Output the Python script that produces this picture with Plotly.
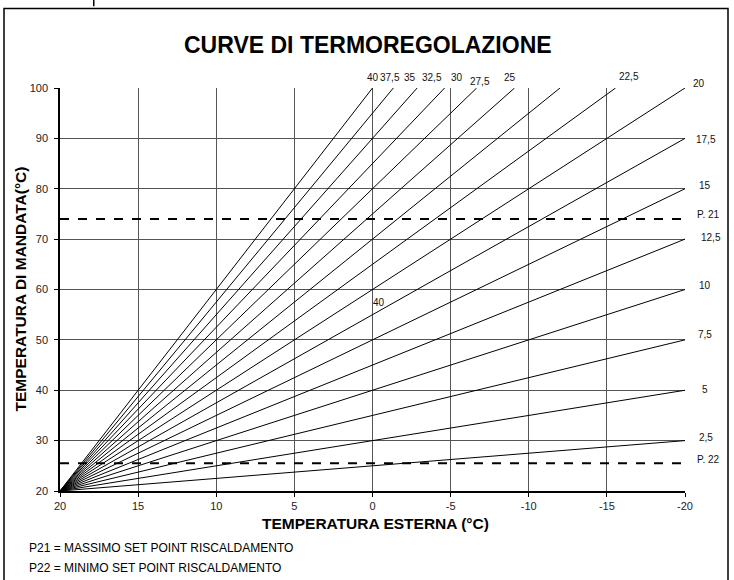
import plotly.graph_objects as go

# Heating curves: flow temperature vs outdoor temperature, all starting at (20, 20)
curve_labels = ["40", "37,5", "35", "32,5", "30", "27,5", "25", "22,5",
                "20", "17,5", "15", "12,5", "10", "7,5", "5", "2,5"]
curve_k = [40, 37.5, 35, 32.5, 30, 27.5, 25, 22.5,
           20, 17.5, 15, 12.5, 10, 7.5, 5, 2.5]

x_start, y_start = 20, 20          # common origin of the curves
x_min, y_max = -20, 100             # chart limits
p21_value = 74.0                    # max heating set point
p22_value = 25.5                    # min heating set point

x_ticks = [20, 15, 10, 5, 0, -5, -10, -15, -20]
y_ticks = [20, 30, 40, 50, 60, 70, 80, 90, 100]

FONT = "Liberation Sans, Arial, sans-serif"

fig = go.Figure()

label_pos = []
for lab, k in zip(curve_labels, curve_k):
    slope = k / 10.0
    # end at 100 °C or at the right edge, whichever comes first
    x_end = max(x_start - (y_max - y_start) / slope, x_min)
    y_end = y_start + slope * (x_start - x_end)
    fig.add_trace(go.Scatter(x=[x_start, x_end], y=[y_start, y_end], mode="lines",
                             line=dict(color="black", width=1), hoverinfo="skip",
                             showlegend=False))
    label_pos.append((lab, x_end, y_end))

# set-point limits
for val in (p21_value, p22_value):
    fig.add_trace(go.Scatter(x=[x_start, x_min], y=[val, val], mode="lines",
                             line=dict(color="black", width=2, dash="dash"),
                             hoverinfo="skip", showlegend=False))

annotations = []
# labels along the top edge (curves reaching 100 °C): (x nudge, y shift in px)
top_offsets = {"40": (0.0, 3), "37,5": (0.2, 3), "35": (0.45, 3), "32,5": (0.8, 3),
               "30": (1.25, 3), "27,5": (2.2, -1), "25": (3.2, 3), "22,5": (-0.85, 4)}
# labels on the right edge: (x shift, y shift in px)
right_offsets = {"20": (6, 5), "17,5": (9, -1.5), "15": (12, 3), "12,5": (14, 2),
                 "10": (12, 4.5), "7,5": (11, 5), "5": (15, 1), "2,5": (12, 3.5)}
for lab, xe, ye in label_pos:
    if lab in top_offsets:
        dx, dy = top_offsets[lab]
        annotations.append(dict(x=xe + dx, y=ye, xref="x", yref="y", text=lab,
                                showarrow=False, yshift=dy, yanchor="bottom",
                                font=dict(family=FONT, size=10, color="#111")))
    else:
        sx, sy = right_offsets[lab]
        annotations.append(dict(x=xe, y=ye, xref="x", yref="y", text=lab,
                                showarrow=False, xanchor="left", yanchor="middle",
                                xshift=sx, yshift=sy,
                                font=dict(family=FONT, size=10, color="#111")))

for name, val in (("P. 21", p21_value), ("P. 22", p22_value)):
    annotations.append(dict(x=x_min, y=val, xref="x", yref="y", text=name,
                            showarrow=False, xanchor="left", yanchor="middle",
                            xshift=10, yshift=4,
                            font=dict(family=FONT, size=10, color="#111")))

annotations.append(dict(x=0, y=57.5, xref="x", yref="y", text="40", showarrow=False,
                        xanchor="left", yanchor="middle", xshift=-2,
                        font=dict(family=FONT, size=10, color="#111")))

annotations.append(dict(x=0.4925, y=1.1075, xref="paper", yref="paper",
                        xanchor="center", yanchor="middle",
                        text="<b>CURVE DI TERMOREGOLAZIONE</b>", showarrow=False,
                        font=dict(family=FONT, size=23, color="black")))
annotations.append(dict(x=0.504, y=-0.0795, xref="paper", yref="paper",
                        xanchor="center", yanchor="middle",
                        text="<b>TEMPERATURA ESTERNA (°C)</b>", showarrow=False,
                        font=dict(family=FONT, size=15.5, color="black")))
annotations.append(dict(x=-0.064, y=0.5, xref="paper", yref="paper",
                        xanchor="center", yanchor="middle",
                        text="<b>TEMPERATURA DI MANDATA(°C)</b>", showarrow=False,
                        textangle=-90,
                        font=dict(family=FONT, size=15.5, color="black")))
annotations.append(dict(x=-0.053, y=-0.1415, xref="paper", yref="paper",
                        xanchor="left", yanchor="middle",
                        text="P21 = MASSIMO SET POINT RISCALDAMENTO", showarrow=False,
                        font=dict(family=FONT, size=12, color="black")))
annotations.append(dict(x=-0.053, y=-0.191, xref="paper", yref="paper",
                        xanchor="left", yanchor="middle",
                        text="P22 = MINIMO SET POINT RISCALDAMENTO", showarrow=False,
                        font=dict(family=FONT, size=12, color="black")))

shapes = [
    # outer frame
    dict(type="rect", xref="paper", yref="paper", x0=-0.0896, x1=1.0688, y0=-0.25, y1=1.197,
         line=dict(color="black", width=1.5), fillcolor="rgba(0,0,0,0)"),
    dict(type="line", xref="paper", yref="paper", x0=0.054, x1=0.054, y0=1.203, y1=1.22,
         line=dict(color="black", width=1.5)),
]

fig.update_layout(
    width=734, height=580,
    margin=dict(l=60, r=49, t=88, b=89),
    plot_bgcolor="white", paper_bgcolor="white",
    annotations=annotations, shapes=shapes,
    xaxis=dict(range=[x_start, x_min], tickvals=x_ticks,
               ticktext=[str(v) for v in x_ticks],
               showgrid=True, gridcolor="#555", gridwidth=1, zeroline=False,
               showline=True, linecolor="black", linewidth=1.5,
               ticks="outside", ticklen=4, tickcolor="black",
               tickfont=dict(family=FONT, size=11, color="#222")),
    yaxis=dict(range=[y_start, y_max], tickvals=y_ticks,
               showgrid=True, gridcolor="#555", gridwidth=1, zeroline=False,
               showline=True, linecolor="black", linewidth=1.5,
               ticks="outside", ticklen=4, tickcolor="black",
               ticklabelstandoff=4,
               tickfont=dict(family=FONT, size=11, color="#222")),
)

fig.write_html("out.html")
